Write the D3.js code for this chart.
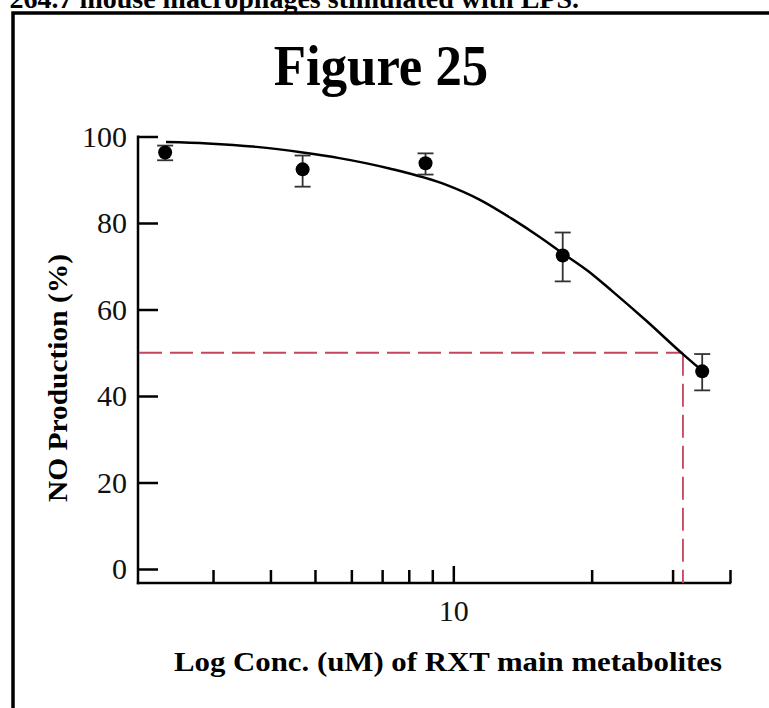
<!DOCTYPE html>
<html>
<head>
<meta charset="utf-8">
<script src="https://cdn.jsdelivr.net/npm/d3@7"></script>
<style>
  html, body { margin: 0; padding: 0; background: #fff; overflow: hidden; }
  svg { display: block; font-family: "Liberation Serif", "Times New Roman", serif; }
</style>
</head>
<body>
<svg id="chart" width="769" height="708"></svg>
<script>
// measured points (concentration in uM, NO production %)
const conc = [2.36, 4.7, 8.7, 17.3, 34.8];
const production = [96.3, 92.4, 93.8, 72.5, 45.7];
const errLow = [94.5, 88.4, 91.2, 66.5, 41.3];
const errHigh = [97.9, 95.6, 96.1, 77.8, 49.7];

// fitted curve
const curveConc = [2.37, 2.92, 3.73, 4.7, 5.65, 7.26, 9.66, 11.4, 13.4, 15.3, 17.3, 19.7, 22.2, 26.3, 31.5, 34.3];
const curveValue = [98.7, 98.4, 97.6, 96.3, 95.0, 92.6, 88.8, 85.4, 81.0, 77.0, 73.0, 68.8, 64.2, 57.4, 49.8, 46.4];

const ic50 = 31.6;
const halfLevel = 50;

const yTicks = [0, 20, 40, 60, 80, 100];
const xTicks = [3, 4, 5, 6, 7, 8, 9, 10, 20, 30, 40];
const xLabelled = [10];

const svg = d3.select('#chart');
const serif = '"Liberation Serif", "Times New Roman", serif';

// outer frame, runs off the right and bottom of the page
svg.append('rect')
  .attr('x', 13).attr('y', 13)
  .attr('width', 820).attr('height', 800)
  .attr('fill', 'none')
  .attr('stroke', '#000')
  .attr('stroke-width', 3.5);

// caption line cut off at the top
svg.append('text')
  .attr('x', 579).attr('y', 8)
  .attr('text-anchor', 'end')
  .attr('font-size', 28)
  .attr('font-weight', 'bold')
  .text('RAW 264.7 mouse macrophages stimulated with LPS.');

svg.append('text')
  .attr('transform', 'translate(381,85) scale(0.91,1)')
  .attr('text-anchor', 'middle')
  .attr('font-size', 58)
  .attr('font-weight', 'bold')
  .text('Figure 25');

const x = d3.scaleLog()
  .domain([2.06, 40])
  .range([138, 730]);

const y = d3.scaleLinear()
  .domain([0, 100])
  .range([569, 136.5]);

const axisY = 583; // x-axis line sits a bit below zero

// y axis
const gy = svg.append('g')
  .attr('transform', 'translate(' + x.range()[0] + ',0)')
  .call(d3.axisLeft(y)
    .tickValues(yTicks)
    .tickSizeInner(-20)
    .tickSizeOuter(0)
    .tickPadding(11));
gy.select('.domain').remove();
gy.selectAll('line').attr('stroke', '#000').attr('stroke-width', 2.5);
gy.selectAll('text')
  .attr('font-size', 30)
  .attr('font-family', serif)
  .attr('fill', '#111');

svg.append('line')
  .attr('x1', x.range()[0]).attr('x2', x.range()[0])
  .attr('y1', y(100) - 1).attr('y2', axisY + 1.2)
  .attr('stroke', '#000').attr('stroke-width', 2.5);

// x axis
const gx = svg.append('g')
  .attr('transform', 'translate(0,' + axisY + ')')
  .call(d3.axisBottom(x)
    .tickValues(xTicks)
    .tickSizeInner(-13)
    .tickSizeOuter(0)
    .tickPadding(17)
    .tickFormat(d => xLabelled.indexOf(d) >= 0 ? d : ''));
gx.select('.domain').remove();
gx.selectAll('line').attr('stroke', '#000').attr('stroke-width', 2.5);
gx.selectAll('.tick').filter(d => xLabelled.indexOf(d) >= 0)
  .select('line').attr('y2', -17);
gx.selectAll('text')
  .attr('font-size', 30)
  .attr('font-family', serif)
  .attr('fill', '#111');

svg.append('line')
  .attr('x1', x.range()[0] - 1.2).attr('x2', x.range()[1] + 1.2)
  .attr('y1', axisY).attr('y2', axisY)
  .attr('stroke', '#000').attr('stroke-width', 2.5);

// axis titles
svg.append('text')
  .attr('x', 174).attr('y', 671)
  .attr('font-size', 28)
  .attr('font-weight', 'bold')
  .attr('textLength', 548)
  .attr('lengthAdjust', 'spacingAndGlyphs')
  .text('Log Conc. (uM) of RXT main metabolites');

svg.append('text')
  .attr('transform', 'translate(67,378) rotate(-90)')
  .attr('text-anchor', 'middle')
  .attr('font-size', 28)
  .attr('font-weight', 'bold')
  .attr('textLength', 248)
  .attr('lengthAdjust', 'spacingAndGlyphs')
  .text('NO Production (%)');

// IC50 guide lines
const red = '#c2465c';
svg.append('line')
  .attr('x1', x.range()[0] + 1).attr('x2', x(ic50))
  .attr('y1', y(halfLevel)).attr('y2', y(halfLevel))
  .attr('stroke', red).attr('stroke-width', 1.8)
  .attr('stroke-dasharray', '23,8');
svg.append('line')
  .attr('x1', x(ic50)).attr('x2', x(ic50))
  .attr('y1', y(halfLevel)).attr('y2', axisY)
  .attr('stroke', red).attr('stroke-width', 1.8)
  .attr('stroke-dasharray', '23,8');

// fitted curve
const line = d3.line()
  .x(d => x(d[0]))
  .y(d => y(d[1]))
  .curve(d3.curveMonotoneX);

svg.append('path')
  .datum(d3.zip(curveConc, curveValue))
  .attr('d', line)
  .attr('fill', 'none')
  .attr('stroke', '#000')
  .attr('stroke-width', 2.5);

// error bars + points
const pts = conc.map((c, i) => ({ c: c, v: production[i], lo: errLow[i], hi: errHigh[i] }));

const eb = svg.append('g').selectAll('g')
  .data(pts)
  .enter().append('g')
  .attr('stroke', '#333')
  .attr('stroke-width', 1.8);
eb.append('line')
  .attr('x1', d => x(d.c)).attr('x2', d => x(d.c))
  .attr('y1', d => y(d.lo)).attr('y2', d => y(d.hi));
eb.append('line')
  .attr('x1', d => x(d.c) - 8).attr('x2', d => x(d.c) + 8)
  .attr('y1', d => y(d.hi)).attr('y2', d => y(d.hi));
eb.append('line')
  .attr('x1', d => x(d.c) - 8).attr('x2', d => x(d.c) + 8)
  .attr('y1', d => y(d.lo)).attr('y2', d => y(d.lo));

svg.append('g').selectAll('circle')
  .data(pts)
  .enter().append('circle')
  .attr('cx', d => x(d.c))
  .attr('cy', d => y(d.v))
  .attr('r', 7)
  .attr('fill', '#000');
</script>
</body>
</html>
